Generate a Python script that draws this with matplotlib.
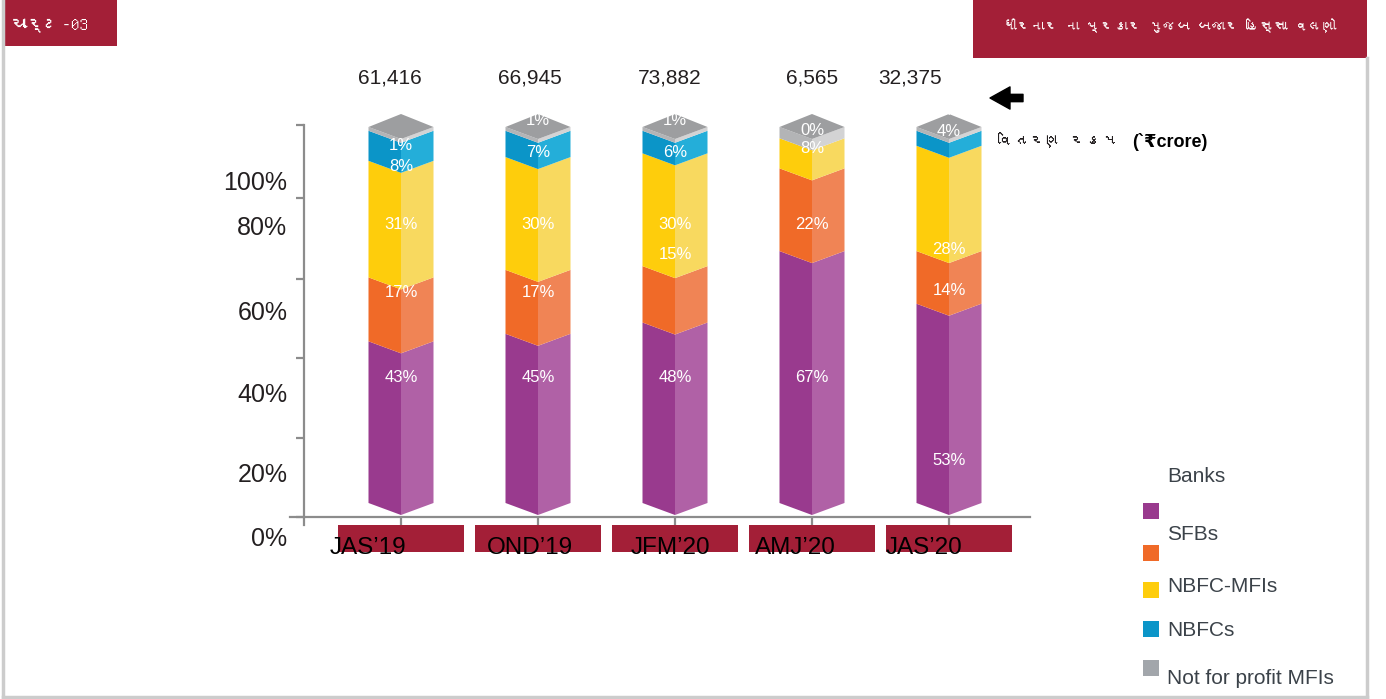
import matplotlib
matplotlib.use("Agg")
import matplotlib.pyplot as plt
from matplotlib.patches import Polygon, Rectangle
from matplotlib.lines import Line2D
from matplotlib import font_manager
from matplotlib.ft2font import FT2Font

quarters = ["JAS’19", "OND’19", "JFM’20", "AMJ’20", "JAS’20"]
totals = ["61,416", "66,945", "73,882", "6,565", "32,375"]
series = ["Banks", "SFBs", "NBFC-MFIs", "NBFCs", "Not for profit MFIs"]
banks = [43, 45, 48, 67, 53]
sfbs = [17, 17, 15, 22, 14]
nbfc_mfis = [31, 30, 30, 8, 28]
nbfcs = [8, 7, 6, 0, 4]
not_for_profit = [1, 1, 1, 3, 1]
ytick_labels = ["100%", "80%", "60%", "40%", "20%", "0%"]

title_left = "ચાર્ટ-03"
title_right = "ધીરનાર ના પ્રકાર મુજબ બજાર હિસ્સા વલણો"
amount_note = "વિતરણ રકમ"
amount_unit = "(`₹crore)"

# colours: (left face, right face, legend)
colors = [("#993a8e", "#b061a6", "#993a8e"),
          ("#f06a28", "#f08455", "#f06a28"),
          ("#fecd0c", "#f8d95f", "#fecd0c"),
          ("#0b95c8", "#24aed9", "#0b95c8"),
          ("#b3b4b6", "#d3d3d4", "#a2a6ab")]
top_color = "#9d9ea0"
red = "#a31f37"
axis_grey = "#8c8c8c"

# the original drops its value labels at fixed rows, not at segment centres
label_y = [[33.5, 56.1, 74.2, 89.6, 95.2],
           [33.5, 56.1, 74.2, 93.1, 101.6],
           [33.5, 66.0, 74.2, 93.1, 101.6],
           [33.5, 74.2, 94.4, 99.2, 105.1],
           [11.4, 56.4, 67.3, 98.9, 104.5]]
total_dx = [-11, -8, -5, 0, -39]      # px
quarter_dx = [-33, -8, -5, -17, -25]  # px


def font_with(ch):
    for f in font_manager.fontManager.ttflist:
        try:
            if ord(ch) in FT2Font(f.fname).get_charmap():
                return f.name
        except Exception:
            pass
    return None


guj = font_with("ચ")
guj_family = [guj, "DejaVu Sans"] if guj else ["DejaVu Sans"]
plt.rcParams["font.family"] = ["Liberation Sans", "DejaVu Sans"]

W, H = 1386, 699
fig = plt.figure(figsize=(W / 100, H / 100), dpi=100)

# pixel layout of the plot area
sx, sy = 137.0, 3.76      # px per bar slot, px per percent
x0_px, y0_px = 401, 503   # first bar centre, bar base
ax = fig.add_axes([290 / W, (H - 555) / H, 740 / W, 430 / H])
ax.set_xlim((290 - x0_px) / sx, (1030 - x0_px) / sx)
ax.set_ylim(-(555 - y0_px) / sy, (y0_px - 125) / sy)
ax.set_facecolor("none")

for s in ["top", "right"]:
    ax.spines[s].set_visible(False)
ax.spines["bottom"].set_position(("data", -(517 - y0_px) / sy))
ax.spines["left"].set_position(("data", (304 - x0_px) / sx))
ax.spines["left"].set_bounds(-(525 - y0_px) / sy, (y0_px - 125) / sy)
for s in ["bottom", "left"]:
    ax.spines[s].set_color(axis_grey)
    ax.spines[s].set_linewidth(1.6)

ax.set_xticks(range(len(quarters)))
ax.tick_params(axis="x", direction="out", length=6, width=1.6, color=axis_grey, labelbottom=False)
ax.set_yticks([(y0_px - p) / sy for p in (125, 198, 279, 358, 438, 517)], minor=True)
ax.set_yticks([85.9, 73.9, 51.3, 29.5, 8.2, -9.0])
ax.set_yticklabels(ytick_labels)
ax.tick_params(axis="y", which="minor", direction="out", length=6, width=1.6, color=axis_grey)
ax.tick_params(axis="y", which="major", length=0, pad=12, labelsize=18, labelcolor="#231f20")

values = [banks, sfbs, nbfc_mfis, nbfcs, not_for_profit]
hw = 32.5 / sx      # half bar width
dv = 12 / sy        # chevron depth
apex = 13 / sy
for i in range(len(quarters)):
    bottom = 0
    for k, vals in enumerate(values):
        top = bottom + vals[i]
        lc, rc, _ = colors[k]
        if vals[i] > 0:
            ax.add_patch(Polygon([(i - hw, bottom), (i, bottom - dv), (i, top - dv), (i - hw, top)],
                                 closed=True, lw=0, fc=lc, clip_on=False, zorder=2))
            ax.add_patch(Polygon([(i, bottom - dv), (i + hw, bottom), (i + hw, top), (i, top - dv)],
                                 closed=True, lw=0, fc=rc, clip_on=False, zorder=2))
        bottom = top
    ax.add_patch(Polygon([(i - hw, bottom), (i, bottom + apex), (i + hw, bottom), (i, bottom - dv)],
                         closed=True, lw=0, fc=top_color, clip_on=False, zorder=3))
    for k, vals in enumerate(values):
        ax.text(i, label_y[i][k], f"{vals[i]}%", color="white", fontsize=12,
                ha="center", va="center", zorder=4, clip_on=False)
    ax.text(i + total_dx[i] / sx, (y0_px - 78) / sy, totals[i], fontsize=15, color="#231f20",
            ha="center", va="center", clip_on=False)
    ax.add_patch(Rectangle((i - 63 / sx, -(552 - y0_px) / sy), 126 / sx, 27 / sy,
                           fc=red, lw=0, clip_on=False, zorder=1))
    ax.text(i + quarter_dx[i] / sx, -(548 - y0_px) / sy, quarters[i], fontsize=17.5,
            color="black", ha="center", va="center", clip_on=False, zorder=5)


def fx(p):
    return p / W


def fy(p):
    return 1 - p / H


# legend, placed as in the original (text and swatches don't line up)
legend_text_y = [477, 535, 586, 630, 679]
legend_box_y = [503, 545, 582, 621, 660]
for k, name in enumerate(series):
    fig.add_artist(Rectangle((fx(1143), fy(legend_box_y[k] + 16)), 16 / W, 16 / H,
                             fc=colors[k][2], lw=0, transform=fig.transFigure))
    fig.text(fx(1167), fy(legend_text_y[k]), name, fontsize=15, color="#3b4249",
             ha="left", va="center")

# header boxes
fig.add_artist(Rectangle((fx(5), fy(46)), 112 / W, 46 / H, fc=red, lw=0, transform=fig.transFigure))
fig.text(fx(11), fy(26), title_left, fontsize=12.5, color="white", ha="left", va="center",
         family=guj_family)
fig.add_artist(Rectangle((fx(973), fy(58)), 394 / W, 58 / H, fc=red, lw=0, transform=fig.transFigure))
fig.text(fx(1170), fy(26), title_right, fontsize=10, color="white", ha="center", va="center",
         family=guj_family)

# frame
for xs, ys in [([3, 3], [0, 697]), ([3, 1367], [697, 697]), ([1367, 1367], [58, 697])]:
    fig.add_artist(Line2D([fx(x) for x in xs], [fy(y) for y in ys], color="#cccccc", lw=2.5,
                          transform=fig.transFigure))

# amount note with arrow
ax.annotate("", xy=(990, H - 98), xytext=(1023, H - 98), xycoords="figure pixels",
            textcoords="figure pixels",
            arrowprops=dict(arrowstyle="simple,head_length=0.9,head_width=1.0,tail_width=0.33",
                            color="black", mutation_scale=16, shrinkA=0, shrinkB=0))
fig.text(fx(998), fy(140), amount_note, fontsize=11.5, color="#231f20", ha="left", va="center",
         family=guj_family)
fig.text(fx(1132), fy(142), amount_unit, fontsize=13, fontweight="bold", color="black",
         ha="left", va="center")

fig.savefig("out.png", dpi=100)
